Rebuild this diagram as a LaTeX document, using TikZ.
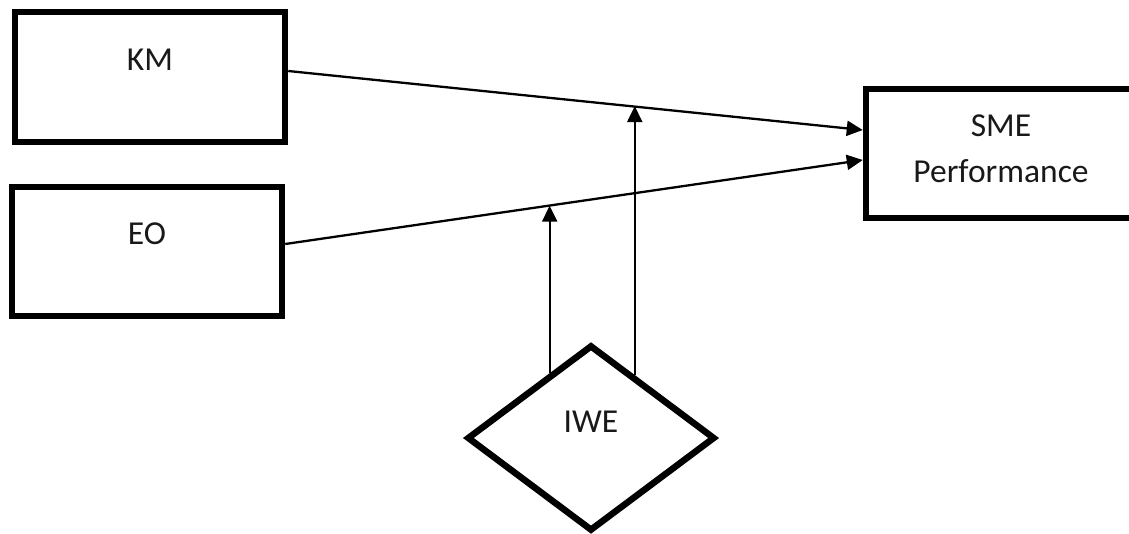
\documentclass[tikz,border=0pt]{standalone}
\usepackage{fontspec}
\setmainfont{Carlito}
\usetikzlibrary{shapes.geometric,arrows.meta,calc}
\tikzset{
  boxnode/.style={draw, line width=6.5pt, rectangle, minimum width=270pt, inner sep=0pt,
    font=\fontsize{33.5}{46}\selectfont, text=black!90, align=center},
  diamondnode/.style={draw, line width=6.5pt, diamond, minimum width=248pt, minimum height=186pt,
    inner sep=0pt, font=\fontsize{33.5}{46}\selectfont, text=black!90, text height=21.6pt, text depth=32pt},
  conn/.style={line width=2.3pt, -{Triangle[length=16pt,width=15pt]}},
}
\begin{document}
\begin{tikzpicture}[x=1pt,y=-1pt]
\clip (0,0) rectangle (1129,533);
\fill[white] (0,0) rectangle (1129,533);
\node[boxnode, minimum height=130pt, text height=21.6pt, text depth=34pt] (KM) at (150,77) {KM};
\node[boxnode, minimum height=129pt, text height=21.6pt, text depth=35pt] (EO) at (147,251.5) {EO};
\node[boxnode, minimum height=129pt] (SME) at (1001,153.5) {SME\\Performance\rule[-9pt]{0pt}{9pt}};
\node[diamondnode] (IWE) at (591,438) {IWE};
\draw[conn] ([yshift=6pt]KM.east) -- coordinate[pos=0.595] (m1) ([yshift=23.5pt]SME.west);
\draw[conn] ([yshift=7.5pt]EO.east) -- coordinate[pos=0.456] (m2) ([yshift=-6.5pt]SME.west);
\coordinate (a2) at ($(IWE.west)!0.675!(IWE.north)$);
\coordinate (a1) at ($(IWE.north)!0.344!(IWE.east)$);
\draw[conn] (a2) -- (a2 |- m2);
\draw[conn] (a1) -- (a1 |- m1);
\end{tikzpicture}
\end{document}
